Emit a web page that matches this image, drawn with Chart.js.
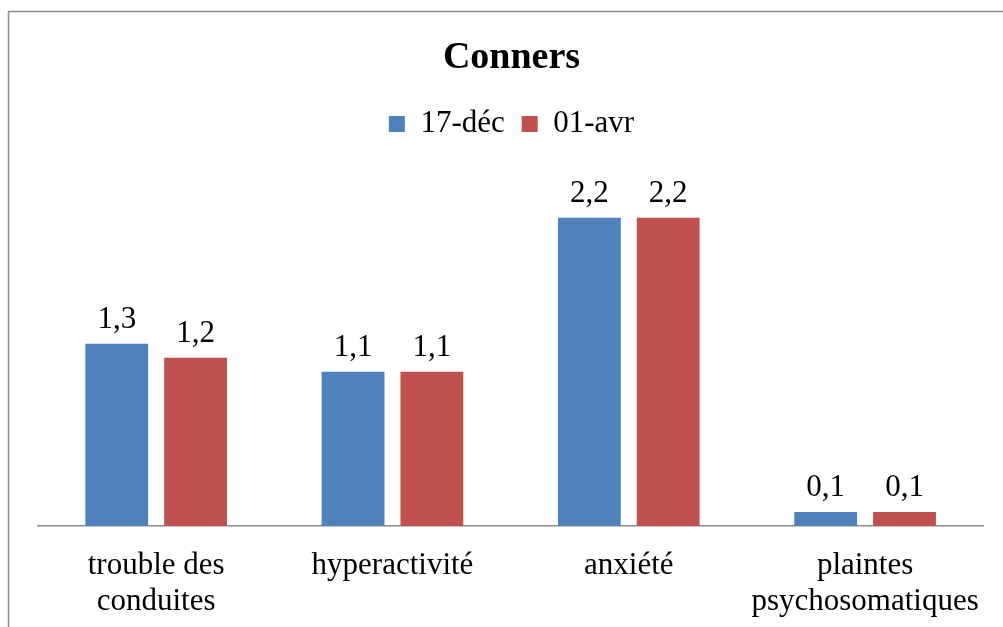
<!DOCTYPE html>
<html>
<head>
<meta charset="utf-8">
<script src="https://cdn.jsdelivr.net/npm/chart.js@4/dist/chart.umd.min.js"></script>
<style>
html,body{margin:0;padding:0;background:#fff;}
#wrap{position:relative;width:1003px;height:627px;}
</style>
</head>
<body>
<div id="wrap"><canvas id="c" width="1003" height="627"></canvas></div>
<script>
const categories = [["trouble des","conduites"], "hyperactivité", "anxiété", ["plaintes","psychosomatiques"]];
const seriesNames = ["17-déc", "01-avr"];
const valuesDec = [1.3, 1.1, 2.2, 0.1];
const valuesAvr = [1.2, 1.1, 2.2, 0.1];
const chartTitle = "Conners";

const FONT = "'Liberation Serif', 'Times New Roman', serif";

const borderPlugin = {
  id: 'frame',
  beforeInit(chart) {
    const legend = chart.legend;
    if (legend) {
      const origFit = legend.fit;
      legend.fit = function () {
        origFit.call(this);
        this.height += 26;
      };
    }
  },
  beforeDraw(chart) {
    const ctx = chart.ctx;
    ctx.save();
    ctx.fillStyle = '#fff';
    ctx.fillRect(0, 0, chart.width, chart.height);
    ctx.strokeStyle = '#8c8c8c';
    ctx.lineWidth = 1.5;
    ctx.beginPath();
    ctx.moveTo(8.5, chart.height);
    ctx.lineTo(8.5, 11.5);
    ctx.lineTo(chart.width, 11.5);
    ctx.stroke();
    ctx.restore();
  }
};

const labelPlugin = {
  id: 'valueLabels',
  afterDatasetsDraw(chart) {
    const ctx = chart.ctx;
    ctx.save();
    ctx.font = "31px " + FONT;
    ctx.fillStyle = '#000';
    ctx.textAlign = 'center';
    ctx.textBaseline = 'alphabetic';
    chart.data.datasets.forEach((ds, i) => {
      const meta = chart.getDatasetMeta(i);
      meta.data.forEach((el, j) => {
        const txt = String(ds.data[j]).replace('.', ',');
        ctx.fillText(txt, el.x, el.y - 16);
      });
    });
    ctx.restore();
  }
};

new Chart(document.getElementById('c'), {
  type: 'bar',
  data: {
    labels: categories,
    datasets: [
      { label: seriesNames[0], data: valuesDec, backgroundColor: '#4F81BD', categoryPercentage: 0.667, barPercentage: 0.797 },
      { label: seriesNames[1], data: valuesAvr, backgroundColor: '#C0504D', categoryPercentage: 0.667, barPercentage: 0.797 }
    ]
  },
  options: {
    responsive: false,
    animation: false,
    layout: { padding: { left: 38, right: 18, top: 0, bottom: 0 } },
    plugins: {
      title: {
        display: true,
        text: chartTitle,
        color: '#000',
        font: { family: FONT, size: 38, weight: 'bold' },
        padding: { top: 35, bottom: 11 }
      },
      legend: {
        display: true,
        labels: {
          color: '#000',
          font: { family: FONT, size: 31 },
          boxWidth: 16,
          boxHeight: 16,
          padding: 17
        }
      },
      tooltip: { enabled: false }
    },
    scales: {
      x: {
        grid: { display: false, drawTicks: false },
        border: { display: true, color: '#8c8c8c', width: 1.5 },
        ticks: { color: '#000', font: { family: FONT, size: 31, lineHeight: 1.15 }, padding: 22, maxRotation: 0, autoSkip: false },
        afterFit(scale) { scale.height = 101; }
      },
      y: {
        display: false,
        min: 0,
        max: 2.5
      }
    }
  },
  plugins: [borderPlugin, labelPlugin]
});
</script>
</body>
</html>
